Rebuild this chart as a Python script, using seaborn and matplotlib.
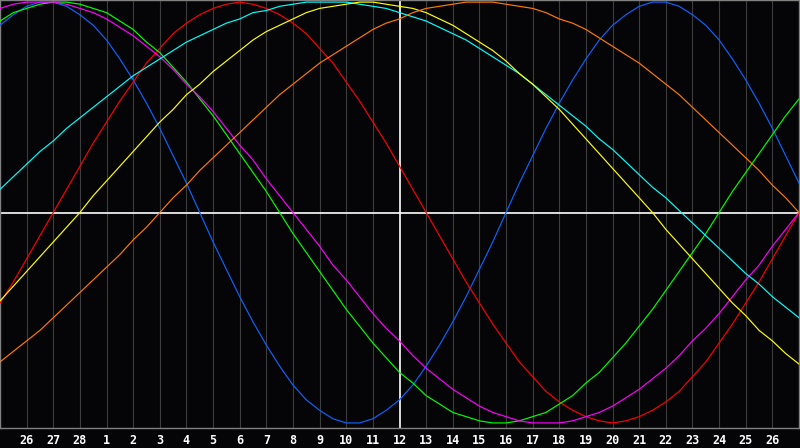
import pandas as pd
import matplotlib
matplotlib.use("Agg")
import matplotlib.pyplot as plt
import seaborn as sns

# gun etiketleri (grid cizgileri 1..29)
gun_etiketleri = ['26', '27', '28', '1', '2', '3', '4', '5', '6', '7', '8', '9', '10',
                  '11', '12', '13', '14', '15', '16', '17', '18', '19', '20', '21',
                  '22', '23', '24', '25', '26']
# yarim gunluk adimlar, 0 = sol kenar, 30 = sag kenar
gunler = [i * 0.5 for i in range(61)]

# ritim degerleri (%)
fiziksel = [89, 94, 98, 100, 100, 98, 94, 89, 82, 73, 63, 52, 40, 27, 14, 0, -14, -27,
            -40, -52, -63, -73, -82, -89, -94, -98, -100, -100, -98, -94, -89, -82,
            -73, -63, -52, -40, -27, -14, 0, 14, 27, 40, 52, 63, 73, 82, 89, 94, 98,
            100, 100, 98, 94, 89, 82, 73, 63, 52, 40, 27, 14]
duygusal = [-43, -33, -22, -11, 0, 11, 22, 33, 43, 53, 62, 71, 78, 85, 90, 94, 97, 99,
            100, 99, 97, 94, 90, 85, 78, 71, 62, 53, 43, 33, 22, 11, 0, -11, -22, -33,
            -43, -53, -62, -71, -78, -85, -90, -94, -97, -99, -100, -99, -97, -94,
            -90, -85, -78, -71, -62, -53, -43, -33, -22, -11, 0]
zihinsel = [91, 95, 97, 99, 100, 100, 99, 97, 95, 91, 87, 81, 76, 69, 62, 54, 46, 37,
            28, 19, 10, 0, -10, -19, -28, -37, -46, -54, -62, -69, -76, -81, -87, -91,
            -95, -97, -99, -100, -100, -99, -97, -95, -91, -87, -81, -76, -69, -62,
            -54, -46, -37, -28, -19, -10, 0, 10, 19, 28, 37, 46, 54]
sezgisel = [97, 99, 100, 100, 100, 99, 97, 95, 92, 88, 84, 79, 74, 68, 61, 55, 48, 40,
            32, 25, 16, 8, 0, -8, -16, -25, -32, -40, -48, -55, -61, -68, -74, -79,
            -84, -88, -92, -95, -97, -99, -100, -100, -100, -99, -97, -95, -92, -88,
            -84, -79, -74, -68, -61, -55, -48, -40, -32, -25, -16, -8, 0]
ruhsal = [11, 17, 23, 29, 34, 40, 45, 50, 55, 60, 65, 69, 73, 77, 81, 84, 87, 90, 92,
          95, 96, 98, 99, 100, 100, 100, 100, 99, 98, 97, 95, 93, 91, 88, 85, 82, 78,
          74, 70, 66, 61, 56, 51, 46, 41, 35, 30, 24, 18, 12, 7, 1, -5, -11, -17, -23,
          -29, -34, -40, -45, -50]
estetik = [-42, -35, -28, -21, -14, -7, 0, 8, 15, 22, 29, 36, 43, 49, 56, 61, 67, 72,
           77, 82, 86, 89, 92, 95, 97, 98, 99, 100, 100, 99, 98, 97, 95, 92, 89, 85,
           81, 77, 72, 66, 61, 55, 49, 42, 35, 28, 21, 14, 7, 0, -8, -15, -22, -29,
           -36, -43, -49, -56, -61, -67, -72]
farkindalik = [-71, -66, -61, -56, -50, -44, -38, -32, -26, -20, -13, -7, 0, 7, 13, 20,
               26, 32, 38, 44, 50, 56, 61, 66, 71, 75, 79, 83, 87, 90, 92, 95, 97, 98,
               99, 100, 100, 100, 99, 98, 97, 95, 92, 90, 87, 83, 79, 75, 71, 66, 61,
               56, 50, 44, 38, 32, 26, 20, 13, 7, 0]

seriler = {'Fiziksel': fiziksel, 'Duygusal': duygusal, 'Zihinsel': zihinsel,
           'Sezgisel': sezgisel, 'Ruhsal': ruhsal, 'Estetik': estetik,
           'Farkindalik': farkindalik}
renkler = {'Fiziksel': '#0a64ff', 'Duygusal': '#ff0000', 'Zihinsel': '#00ff00',
           'Sezgisel': '#ff00ff', 'Ruhsal': '#00ffff', 'Estetik': '#ffff00',
           'Farkindalik': '#ff7a00'}

df = pd.concat([pd.DataFrame({'gun': gunler, 'deger': v, 'ritim': k})
                for k, v in seriler.items()], ignore_index=True)

fig = plt.figure(figsize=(8, 4.48), dpi=100, facecolor='#050507')
ax = fig.add_axes([0, 20 / 448, 799 / 800, 428 / 448])
ax.set_facecolor('#050507')

# dikey grid cizgileri
for g in range(1, 30):
    if g != 15:
        ax.axvline(g, color='#3c3c3c', lw=0.8, zorder=1)

sns.lineplot(data=df, x='gun', y='deger', hue='ritim', palette=renkler,
             legend=False, lw=0.85, ax=ax, zorder=3)

# bugun cizgisi ve sifir cizgisi
ax.axhline(0, color='white', lw=1.2, zorder=2)
ax.axvline(15, color='white', lw=1.2, zorder=2)

ax.set_xlim(0, 30)
ax.set_ylim(-102.4, 101)
ax.set_yticks([])
ax.set_xticks(range(1, 30))
ax.set_xticklabels(gun_etiketleri, color='white', fontweight='bold',
                   family='DejaVu Sans Mono', fontsize=8.5)
ax.tick_params(axis='x', length=0, pad=4)
ax.set_xlabel('')
ax.set_ylabel('')
for s in ax.spines.values():
    s.set_color('#808080')
    s.set_linewidth(1)

fig.savefig('out.png', dpi=100, facecolor=fig.get_facecolor())
